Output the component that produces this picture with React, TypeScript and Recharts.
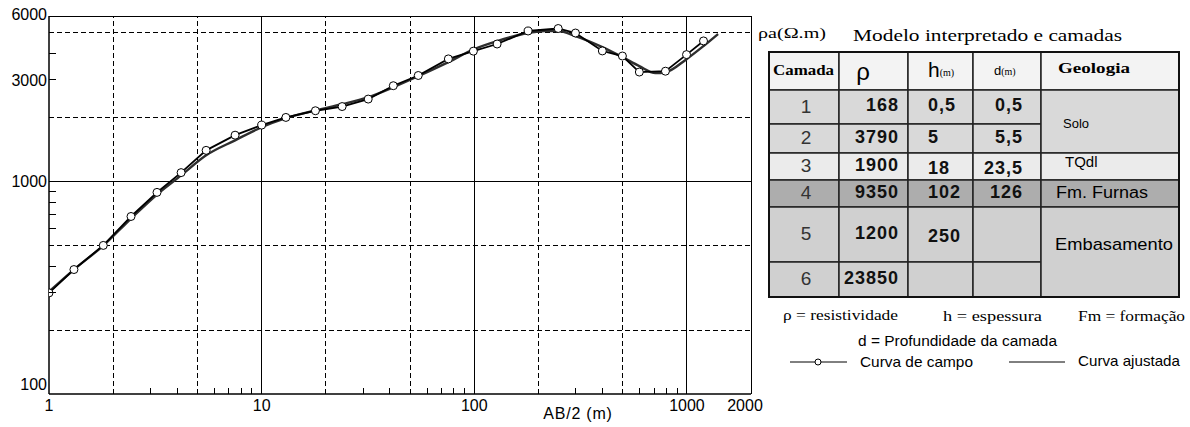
import { LineChart, Line, XAxis, YAxis, ReferenceLine } from "recharts";

// field curve (AB/2 in m, apparent resistivity in ohm.m)
const fieldAB = [1, 1.31, 1.8, 2.43, 3.22, 4.18, 5.48, 7.5, 10, 13, 17.9, 23.9, 31.7, 41.6, 54.5, 75.5, 99, 128, 179, 248, 299, 400, 497, 597, 792, 995, 1196];
const fieldRho = [299, 385, 500, 684, 888, 1100, 1400, 1650, 1840, 2000, 2150, 2250, 2440, 2820, 3150, 3770, 4100, 4430, 5100, 5240, 4990, 4110, 3890, 3270, 3300, 3950, 4580];

// fitted curve
const fitAB = [1, 1.31, 1.8, 2.43, 3.22, 4.18, 5.48, 7.5, 10, 13, 17.9, 23.9, 31.7, 41.6, 54.5, 75.5, 100, 128, 179, 214, 248, 299, 400, 497, 597, 711, 792, 995, 1196, 1400];
const fitRho = [303, 385, 499, 669, 868, 1067, 1327, 1561, 1798, 1983, 2160, 2307, 2490, 2775, 3128, 3642, 4197, 4575, 4990, 5100, 5100, 4830, 4285, 3845, 3486, 3230, 3260, 3760, 4333, 4937];

const xLabels = [1, 10, 100, 1000, 2000];
const xMinor = [3, 4, 6, 7, 8, 9, 30, 40, 60, 70, 80, 90, 300, 400, 600, 700, 800, 900];
const xSolid = [10, 100, 1000, 2000];
const xDashed = [2, 5, 20, 50, 200, 500];

const yLabels = [100, 1000, 3000, 6000];
const yMinor = [300, 400, 600, 700, 800, 900, 3000, 4000];
const ySolid = [1000, 6000];
const yDashed = [200, 500, 2000, 5000];

// table: interpreted model
const layers = ["1", "2", "3", "4", "5", "6"];
const rho = ["168", "3790", "1900", "9350", "1200", "23850"];
const thick = ["0,5", "5", "18", "102", "250", ""];
const depth = ["0,5", "5,5", "23,5", "126", "", ""];
const geology = [
  { name: "Solo", from: 0, to: 1 },
  { name: "TQdl", from: 2, to: 2 },
  { name: "Fm. Furnas", from: 3, to: 3 },
  { name: "Embasamento", from: 4, to: 5 },
];

const fieldData = fieldAB.map((x, i) => ({ x, y: fieldRho[i] }));
const fitData = fitAB.map((x, i) => ({ x, y: fitRho[i] }));

const SANS = "'Liberation Sans', Arial, sans-serif";
const SERIF = "'Liberation Serif', 'Times New Roman', serif";

const colX = [769, 839, 908, 973, 1041, 1179];
const rowY = [52, 90, 124, 153, 180, 207, 262, 297];
const rowFill = ["#f3f3f3", "#d9d9d9", "#d9d9d9", "#ebebeb", "#adadad", "#d0d0d0", "#d0d0d0"];

const XTick = (props: any) => {
  const { x, y, payload } = props;
  const v = payload.value;
  if (xMinor.includes(v)) {
    return <line x1={x} x2={x} y1={y} y2={y - 6} stroke="#000" shapeRendering="crispEdges" />;
  }
  return (
    <text x={v === 2000 ? x - 6 : x} y={y + 17} textAnchor="middle" fontSize={16} fontFamily={SANS} fill="#000">
      {v}
    </text>
  );
};

const YTick = (props: any) => {
  const { x, y, payload } = props;
  const v = payload.value;
  return (
    <g>
      {yMinor.includes(v) && <line x1={x} x2={x + 7} y1={y} y2={y} stroke="#000" shapeRendering="crispEdges" />}
      {yLabels.includes(v) && (
        <text x={x - 2} y={v === 100 ? y - 10 : v === 6000 ? y - 2 : y} dy="0.36em" textAnchor="end" fontSize={16} fontFamily={SANS} fill="#000">
          {v}
        </text>
      )}
    </g>
  );
};

const FieldDot = (props: any) => {
  const { cx, cy, index } = props;
  return <circle key={index} cx={cx} cy={cy} r={4} fill="#fff" stroke="#000" strokeWidth={1} />;
};

function ModelTable() {
  const cy = (r: number) => (rowY[r] + rowY[r + 1]) / 2 - 2;
  return (
    <svg width={1190} height={427} style={{ position: "absolute", left: 0, top: 0, pointerEvents: "none" }}>
      <text x={758} y={33} dy="0.35em" fontSize={14} fontFamily={SERIF} textLength={68} lengthAdjust="spacingAndGlyphs">
        ρa(Ω.m)
      </text>
      <text x={853} y={35} dy="0.35em" fontSize={17} fontFamily={SERIF} textLength={269} lengthAdjust="spacingAndGlyphs">
        Modelo interpretado e camadas
      </text>

      {/* header */}
      {[0, 1, 2, 3, 4].map((c) => (
        <rect key={"h" + c} x={colX[c]} y={rowY[0]} width={colX[c + 1] - colX[c]} height={rowY[1] - rowY[0]} fill={rowFill[0]} stroke="#222" strokeWidth={1.5} />
      ))}
      {layers.map((_, r) =>
        [0, 1, 2, 3].map((c) => (
          <rect key={`c${r}-${c}`} x={colX[c]} y={rowY[r + 1]} width={colX[c + 1] - colX[c]} height={rowY[r + 2] - rowY[r + 1]} fill={rowFill[r + 1]} stroke="#222" strokeWidth={1.5} />
        ))
      )}
      {geology.map((g) => (
        <rect key={g.name} x={colX[4]} y={rowY[g.from + 1]} width={colX[5] - colX[4]} height={rowY[g.to + 2] - rowY[g.from + 1]} fill={rowFill[g.from + 1]} stroke="#222" strokeWidth={1.5} />
      ))}
      <rect x={colX[0]} y={rowY[0]} width={colX[5] - colX[0]} height={rowY[7] - rowY[0]} fill="none" stroke="#111" strokeWidth={2} />

      <text x={773} y={70} dy="0.35em" fontSize={15} fontWeight="bold" fontFamily={SERIF} textLength={61} lengthAdjust="spacingAndGlyphs">
        Camada
      </text>
      <text x={863} y={72} dy="0.35em" textAnchor="middle" fontSize={24} fontFamily={SANS}>
        ρ
      </text>
      <text x={928} y={70} dy="0.35em" fontSize={21} fontFamily={SANS}>
        h<tspan fontSize={10} fontFamily={SERIF} dy={-1}>(m)</tspan>
      </text>
      <text x={994} y={70} dy="0.35em" fontSize={13} fontFamily={SANS}>
        d<tspan fontSize={10} fontFamily={SERIF}>(m)</tspan>
      </text>
      <text x={1058} y={68} dy="0.35em" fontSize={15} fontWeight="bold" fontFamily={SERIF} textLength={72} lengthAdjust="spacingAndGlyphs">
        Geologia
      </text>

      {layers.map((l, r) => (
        <g key={"t" + l}>
          <text x={806} y={cy(r + 1) + 1} dy="0.36em" textAnchor="middle" fontSize={19} fontFamily={SANS} fill="#333">
            {l}
          </text>
          <text x={899} y={cy(r + 1)} dy="0.36em" textAnchor="end" fontSize={18} fontWeight="bold" fontFamily={SANS} letterSpacing={1} fill="#111">
            {rho[r]}
          </text>
          <text x={928} y={cy(r + 1) + (r === 2 || r === 4 ? 3 : 0)} dy="0.36em" fontSize={18} fontWeight="bold" fontFamily={SANS} letterSpacing={1} fill="#111">
            {thick[r]}
          </text>
          <text x={1023} y={cy(r + 1) + (r === 2 ? 3 : 0)} dy="0.36em" textAnchor="end" fontSize={18} fontWeight="bold" fontFamily={SANS} letterSpacing={1} fill="#111">
            {depth[r]}
          </text>
        </g>
      ))}
      <text x={1063} y={123} dy="0.35em" fontSize={13} fontFamily={SANS}>Solo</text>
      <text x={1065} y={162} dy="0.35em" fontSize={15} fontFamily={SANS}>TQdl</text>
      <text x={1056} y={192} dy="0.35em" fontSize={16} fontFamily={SANS} textLength={92} lengthAdjust="spacingAndGlyphs">Fm. Furnas</text>
      <text x={1055} y={244} dy="0.35em" fontSize={17} fontFamily={SANS} textLength={118} lengthAdjust="spacingAndGlyphs">Embasamento</text>

      {/* notes */}
      <text x={783} y={315} dy="0.35em" fontSize={14} fontFamily={SERIF} textLength={115} lengthAdjust="spacingAndGlyphs">ρ = resistividade</text>
      <text x={943} y={316} dy="0.35em" fontSize={15} fontFamily={SERIF} textLength={99} lengthAdjust="spacingAndGlyphs">h = espessura</text>
      <text x={1078} y={316} dy="0.35em" fontSize={15} fontFamily={SERIF} textLength={107} lengthAdjust="spacingAndGlyphs">Fm = formação</text>
      <text x={858} y={341} dy="0.35em" fontSize={14} fontFamily={SANS} textLength={199} lengthAdjust="spacingAndGlyphs">d = Profundidade da camada</text>

      {/* legend */}
      <line x1={790} x2={847} y1={362} y2={362} stroke="#000" strokeWidth={1} />
      <circle cx={818} cy={362} r={3} fill="#fff" stroke="#000" />
      <text x={860} y={362} dy="0.35em" fontSize={15} fontFamily={SANS} textLength={113} lengthAdjust="spacingAndGlyphs">Curva de campo</text>
      <line x1={1009} x2={1065} y1={362} y2={362} stroke="#000" strokeWidth={1} />
      <text x={1078} y={361} dy="0.35em" fontSize={15} fontFamily={SANS} textLength={102} lengthAdjust="spacingAndGlyphs">Curva ajustada</text>
    </svg>
  );
}

export default function App() {
  const xTicks = [...xLabels, ...xMinor].sort((a, b) => a - b);
  const yTicks = Array.from(new Set([...yLabels, ...yMinor])).sort((a, b) => a - b);
  return (
    <div style={{ position: "absolute", left: 0, top: 0, width: 1190, height: 427, background: "#fff" }}>
      <LineChart width={1190} height={427} margin={{ top: 16, right: 439, bottom: 0, left: 0 }}>
        <XAxis
          dataKey="x"
          type="number"
          scale="log"
          domain={[1, 2000]}
          allowDataOverflow
          ticks={xTicks}
          interval={0}
          height={33}
          tickSize={0}
          tickMargin={0}
          tickLine={false}
          axisLine={{ stroke: "#000", strokeWidth: 1.5 }}
          tick={<XTick />}
        />
        <YAxis
          dataKey="y"
          type="number"
          scale="log"
          domain={[100, 6000]}
          allowDataOverflow
          ticks={yTicks}
          interval={0}
          width={49}
          tickSize={0}
          tickMargin={0}
          tickLine={false}
          axisLine={{ stroke: "#000", strokeWidth: 1.5 }}
          tick={<YTick />}
        />
        {xDashed.map((v) => (
          <ReferenceLine key={"xd" + v} x={v} stroke="#000" strokeDasharray="5 3" shapeRendering="crispEdges" />
        ))}
        {yDashed.map((v) => (
          <ReferenceLine key={"yd" + v} y={v} stroke="#000" strokeDasharray="5 3" shapeRendering="crispEdges" />
        ))}
        {xSolid.map((v) => (
          <ReferenceLine key={"xs" + v} x={v} stroke="#000" shapeRendering="crispEdges" />
        ))}
        {ySolid.map((v) => (
          <ReferenceLine key={"ys" + v} y={v} stroke="#000" shapeRendering="crispEdges" />
        ))}
        <Line
          data={fitData}
          dataKey="y"
          type="monotone"
          stroke="#2e2e2e"
          strokeWidth={2.4}
          dot={false}
          isAnimationActive={false}
        />
        <Line
          data={fieldData}
          dataKey="y"
          type="linear"
          stroke="#000"
          strokeWidth={1.8}
          dot={<FieldDot />}
          isAnimationActive={false}
        />
      </LineChart>
      <div style={{ position: "absolute", left: 538, top: 405, width: 80, textAlign: "center", fontFamily: SANS, fontSize: 16, letterSpacing: 0.8 }}>
        AB/2 (m)
      </div>
      <ModelTable />
    </div>
  );
}
